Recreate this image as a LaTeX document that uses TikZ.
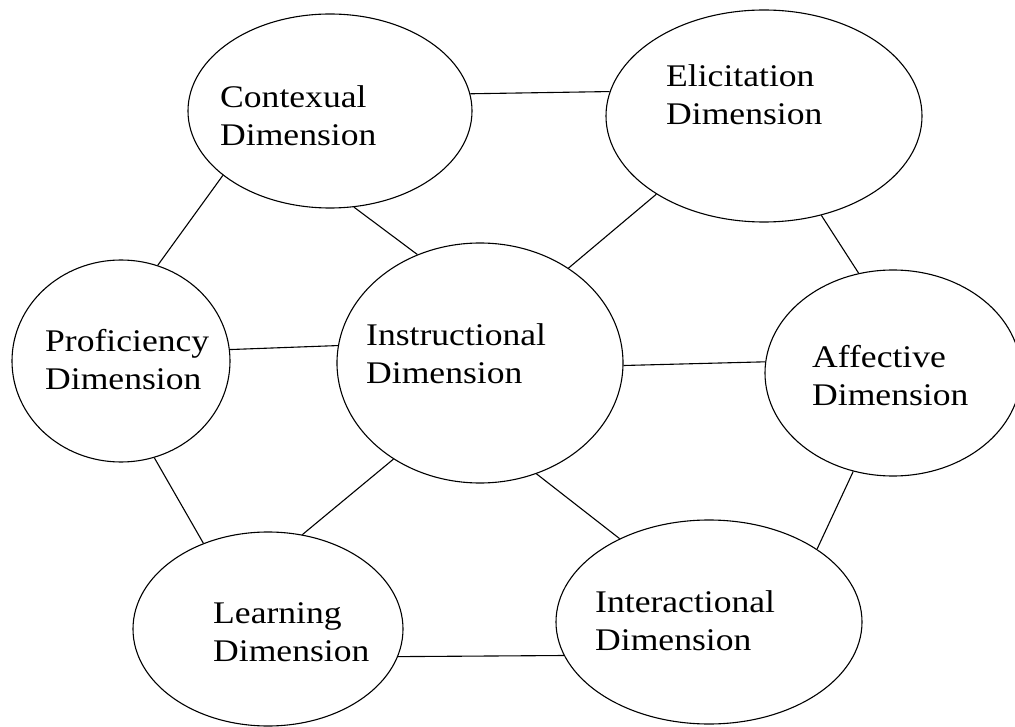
\documentclass[tikz,border=0pt]{standalone}
\usepackage{fontspec}
\setmainfont{Liberation Serif}[FakeStretch=1.13]
\usetikzlibrary{shapes.geometric}
\newcommand\lblfont{\fontsize{31.5pt}{38pt}\selectfont}
\newcommand\twolines[2]{\begin{tabular}[t]{@{}l@{}}#1\\#2\end{tabular}}
\begin{document}
\begin{tikzpicture}[x=1pt,y=-1pt,
  dimbox/.style={ellipse, draw, line width=1.1pt, inner sep=0pt},
  lbl/.style={anchor=base west, inner sep=0pt, font=\lblfont},
  link/.style={line width=1.1pt}]
\useasboundingbox (0,0) rectangle (1015,727);
\clip (0,0) rectangle (1015,727);

% ellipses
\node[dimbox, minimum width=284pt, minimum height=194pt] (ctx) at (330,111) {};
\node[dimbox, minimum width=316pt, minimum height=212pt] (eli) at (764,116) {};
\node[dimbox, minimum width=218pt, minimum height=202pt] (pro) at (121,361) {};
\node[dimbox, minimum width=286pt, minimum height=240pt] (ins) at (480,363) {};
\node[dimbox, minimum width=256pt, minimum height=206pt] (aff) at (893,373) {};
\node[dimbox, minimum width=270pt, minimum height=194pt] (lea) at (268,629) {};
\node[dimbox, minimum width=306pt, minimum height=204pt] (int) at (709,622) {};

% labels
\node[lbl] (ctxT) at (220,108) {\twolines{Contexual}{Dimension}};
\node[lbl] (eliT) at (666,87)  {\twolines{Elicitation}{Dimension}};
\node[lbl] (proT) at (45,352)  {\twolines{Proficiency}{Dimension}};
\node[lbl] (insT) at (366,345) {\twolines{Instructional}{Dimension}};
\node[lbl] (affT) at (812,367) {\twolines{Affective}{Dimension}};
\node[lbl] (leaT) at (213,623) {\twolines{Learning}{Dimension}};
\node[lbl] (intT) at (595,612) {\twolines{Interactional}{Dimension}};

% connectors
\draw[link] (ctx.7.77)  -- (eli.171.14);
\draw[link] (ctx.211.4) -- (pro.69.3);
\draw[link] (ctx.284.6) -- (ins.120.3);
\draw[link] (eli.216.7) -- (ins.47.5);
\draw[link] (eli.300.3) -- (aff.109.8);
\draw[link] (pro.6.86)  -- (ins.173.97);
\draw[link] (ins.359.6) -- (aff.175.96);
\draw[link] (pro.289.5) -- (lea.127.5);
\draw[link] (ins.228.2) -- (lea.70.5);
\draw[link] (ins.297.4) -- (int.137.9);
\draw[link] (aff.248)   -- (int.34.5);
\draw[link] (lea.348.24) -- (int.193.27);
\end{tikzpicture}
\end{document}
